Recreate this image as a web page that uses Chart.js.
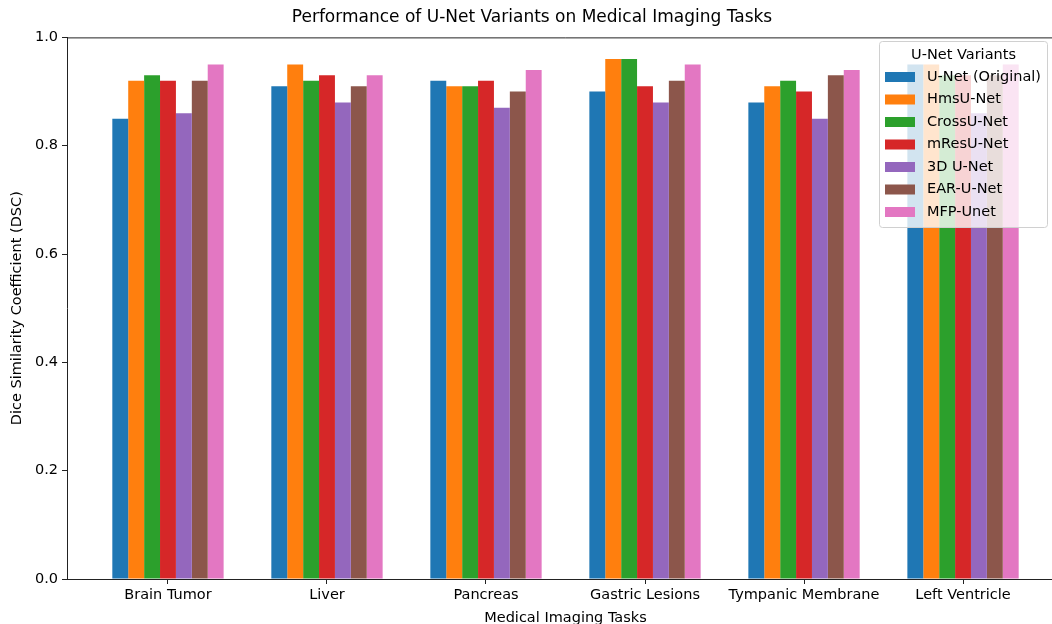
<!DOCTYPE html>
<html>
<head>
<meta charset="utf-8">
<script src="https://cdn.jsdelivr.net/npm/chart.js@4"></script>
<style>
  html, body { margin: 0; padding: 0; background: #fff; overflow: hidden; }
</style>
</head>
<body>
<canvas id="myChart" width="1075" height="632"></canvas>
<script>
const tasks = ['Brain Tumor', 'Liver', 'Pancreas', 'Gastric Lesions', 'Tympanic Membrane', 'Left Ventricle']
const variants = ['U-Net (Original)', 'HmsU-Net', 'CrossU-Net', 'mResU-Net', '3D U-Net', 'EAR-U-Net', 'MFP-Unet']

const unetOriginal = [0.85, 0.91, 0.92, 0.90, 0.88, 0.95]
const hmsUnet      = [0.92, 0.95, 0.91, 0.96, 0.91, 0.95]
const crossUnet    = [0.93, 0.92, 0.91, 0.96, 0.92, 0.93]
const mResUnet     = [0.92, 0.93, 0.92, 0.91, 0.90, 0.93]
const unet3d       = [0.86, 0.88, 0.87, 0.88, 0.85, 0.86]
const earUnet      = [0.92, 0.91, 0.90, 0.92, 0.93, 0.93]
const mfpUnet      = [0.95, 0.93, 0.94, 0.95, 0.94, 0.95]

const yTicks = [0.0, 0.2, 0.4, 0.6, 0.8, 1.0]

const seriesValues = [unetOriginal, hmsUnet, crossUnet, mResUnet, unet3d, earUnet, mfpUnet]
const colors = ['#1f77b4', '#ff7f0e', '#2ca02c', '#d62728', '#9467bd', '#8c564b', '#e377c2']

const font = 'DejaVu Sans'

// matplotlib-ish spines (top + right) and the legend box drawn inside the axes
const mplExtras = {
  id: 'mplExtras',
  afterDatasetsDraw(chart) {
    const { ctx, chartArea } = chart
    ctx.save()
    ctx.strokeStyle = '#222'
    ctx.lineWidth = 1
    ctx.beginPath()
    ctx.moveTo(chartArea.left, chartArea.top + 0.5)
    ctx.lineTo(chartArea.right + 0.5, chartArea.top + 0.5)
    ctx.lineTo(chartArea.right + 0.5, chartArea.bottom)
    ctx.stroke()

    // legend
    const bx = 879.5, by = 41.5, bw = 168, bh = 186, r = 3
    ctx.beginPath()
    ctx.moveTo(bx + r, by)
    ctx.lineTo(bx + bw - r, by)
    ctx.quadraticCurveTo(bx + bw, by, bx + bw, by + r)
    ctx.lineTo(bx + bw, by + bh - r)
    ctx.quadraticCurveTo(bx + bw, by + bh, bx + bw - r, by + bh)
    ctx.lineTo(bx + r, by + bh)
    ctx.quadraticCurveTo(bx, by + bh, bx, by + bh - r)
    ctx.lineTo(bx, by + r)
    ctx.quadraticCurveTo(bx, by, bx + r, by)
    ctx.closePath()
    ctx.fillStyle = 'rgba(255,255,255,0.8)'
    ctx.fill()
    ctx.strokeStyle = '#d0d0d0'
    ctx.stroke()

    ctx.font = '14.5px "' + font + '"'
    ctx.fillStyle = '#000'
    ctx.textBaseline = 'middle'
    ctx.textAlign = 'center'
    ctx.fillText('U-Net Variants', bx + bw / 2, 55)
    ctx.textAlign = 'left'
    variants.forEach((name, i) => {
      const cy = 77 + i * 22.5
      ctx.fillStyle = colors[i]
      ctx.fillRect(885, cy - 5, 30, 10)
      ctx.fillStyle = '#000'
      ctx.fillText(name, 927, cy)
    })
    ctx.restore()
  }
}

const datasets = variants.map((name, i) => ({
  label: name,
  backgroundColor: colors[i],
  borderWidth: 0,
  data: seriesValues[i].map((v, j) => ({ x: j, y: v })),
}))

const config = {
  type: 'bar',
  data: { datasets: datasets },
  options: {
    responsive: false,
    animation: false,
    categoryPercentage: 0.7,
    barPercentage: 1.0,
    layout: { padding: { left: 0, right: 11, top: 0, bottom: 0 } },
    plugins: {
      legend: { display: false },
      tooltip: { enabled: false },
      title: {
        display: true,
        text: 'Performance of U-Net Variants on Medical Imaging Tasks',
        color: '#000',
        font: { family: font, size: 17, weight: 'normal' },
        padding: { top: 7, bottom: 10 },
      },
    },
    scales: {
      x: {
        type: 'linear',
        offset: false,
        min: -0.635,
        max: 5.635,
        afterFit: (scale) => { scale.height = 53 },
        grid: { offset: false, drawOnChartArea: false, drawTicks: true, tickLength: 5, color: '#222' },
        border: { display: true, color: '#222', width: 1 },
        ticks: {
          stepSize: 1,
          includeBounds: false,
          autoSkip: false,
          maxRotation: 0,
          padding: 3,
          color: '#000',
          font: { family: font, size: 14.5 },
          callback: (v) => (Number.isInteger(v) && tasks[v] !== undefined ? tasks[v] : ''),
        },
        title: {
          display: true,
          text: 'Medical Imaging Tasks',
          color: '#000',
          font: { family: font, size: 14.5 },
          padding: { top: 2, bottom: 5 },
        },
      },
      y: {
        min: 0,
        max: 1.0,
        afterFit: (scale) => { scale.width = 67 },
        afterBuildTicks: (scale) => { scale.ticks = yTicks.map((v) => ({ value: v })) },
        grid: { drawOnChartArea: false, drawTicks: true, tickLength: 5, color: '#222' },
        border: { display: true, color: '#222', width: 1 },
        ticks: {
          padding: 4,
          color: '#000',
          font: { family: font, size: 14.5 },
          callback: (v) => Number(v).toFixed(1),
        },
        title: {
          display: true,
          text: 'Dice Similarity Coefficient (DSC)',
          color: '#000',
          font: { family: font, size: 14.5 },
          padding: { top: 9, bottom: 0 },
        },
      },
    },
  },
  plugins: [mplExtras],
}

const myChart = new Chart(document.getElementById('myChart'), config)
</script>
</body>
</html>
